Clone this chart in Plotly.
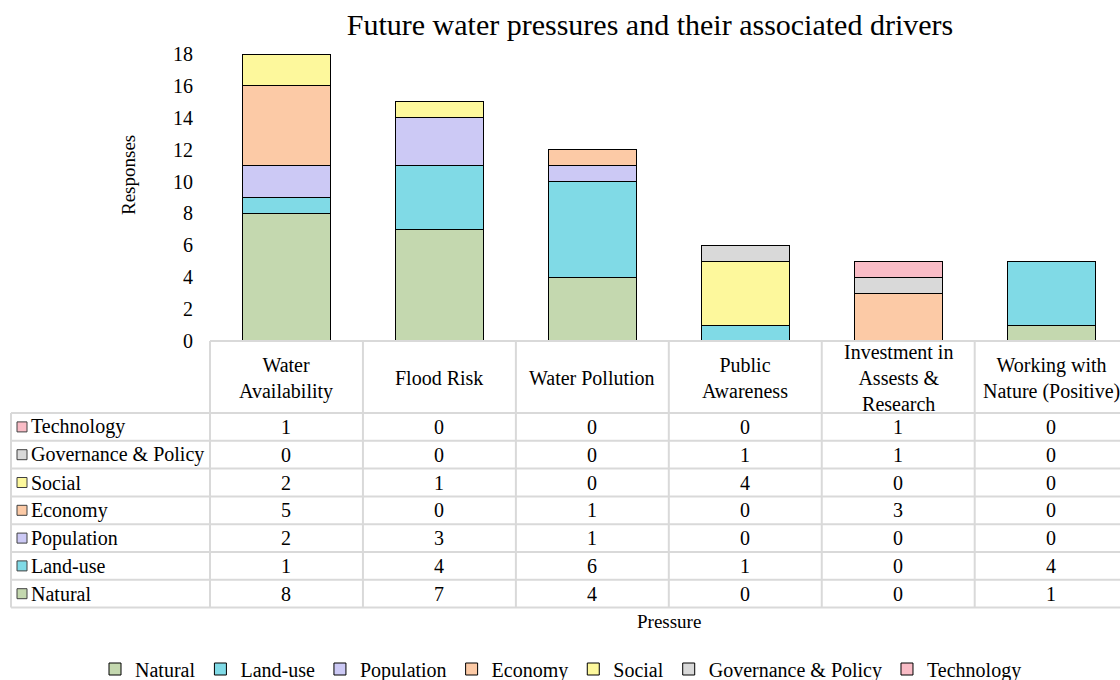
import plotly.graph_objects as go

categories = ["Water Availability", "Flood Risk", "Water Pollution", "Public Awareness",
              "Investment in Assests & Research", "Working with Nature (Positive)"]
header_labels = ["Water<br>Availability", "Flood Risk", "Water Pollution", "Public<br>Awareness",
                 "Investment in<br>Assests &<br>Research", "Working with<br>Nature (Positive)"]

series_names = ["Natural", "Land-use", "Population", "Economy", "Social", "Governance & Policy", "Technology"]
natural = [8, 7, 4, 0, 0, 1]
land_use = [1, 4, 6, 1, 0, 4]
population = [2, 3, 1, 0, 0, 0]
economy = [5, 0, 1, 0, 3, 0]
social = [2, 1, 0, 4, 0, 0]
governance = [0, 0, 0, 1, 1, 0]
technology = [1, 0, 0, 0, 1, 0]
series_values = [natural, land_use, population, economy, social, governance, technology]
colors = ["#C4D8AF", "#80DAE6", "#CCC9F5", "#FCCAA6", "#FDF89C", "#D9D9D9", "#F9BCC6"]

W, H = 1120, 680
L, T, B_PIX = 210, 54, 341          # plot area left, top, bottom (pixels)
PH = B_PIX - T
FONT = "Liberation Serif, Times New Roman, serif"
GRID = "#D9D9D9"
TXT = 20


def py(pix):
    return (B_PIX - pix) / PH


def px(pix):
    return (pix - L) / (W - L)


fig = go.Figure()
for name, vals, col in zip(series_names, series_values, colors):
    fig.add_trace(go.Bar(
        x=list(range(len(categories))), y=vals, name=name, width=0.575,
        marker=dict(color=col, line=dict(color="black", width=1)),
        hovertext=categories,
    ))

shapes = []
row_top = 413
row_h = 27.8
n_rows = len(series_names)
table_bottom = row_top + row_h * n_rows
# header top line
shapes.append(dict(type="line", xref="paper", yref="paper", x0=0, x1=1, y0=py(B_PIX), y1=py(B_PIX),
                   line=dict(color=GRID, width=2)))
# row lines
for k in range(n_rows + 1):
    yy = py(row_top + k * row_h)
    shapes.append(dict(type="line", xref="paper", yref="paper", x0=px(11), x1=1, y0=yy, y1=yy,
                       line=dict(color=GRID, width=2)))
# vertical lines
shapes.append(dict(type="line", xref="paper", yref="paper", x0=0, x1=0, y0=py(B_PIX), y1=py(table_bottom),
                   line=dict(color=GRID, width=2)))
shapes.append(dict(type="line", xref="paper", yref="paper", x0=px(11), x1=px(11), y0=py(row_top),
                   y1=py(table_bottom), line=dict(color=GRID, width=2)))
for i in range(1, len(categories)):
    shapes.append(dict(type="line", xref="x", yref="paper", x0=i - 0.5, x1=i - 0.5, y0=py(B_PIX),
                       y1=py(table_bottom), line=dict(color=GRID, width=2)))

annotations = []
# header labels
for i, lab in enumerate(header_labels):
    annotations.append(dict(xref="x", yref="paper", x=i, y=py((B_PIX + row_top) / 2 + 1), text=lab,
                            showarrow=False, xanchor="center", yanchor="middle",
                            font=dict(family=FONT, size=TXT, color="black")))
# rows: Technology at top, Natural at bottom
for r, idx in enumerate(reversed(range(n_rows))):
    cy = row_top + row_h * (r + 0.5)
    shapes.append(dict(type="rect", xref="paper", yref="paper", x0=px(17), x1=px(27),
                       y0=py(cy - 5), y1=py(cy + 5), fillcolor=colors[idx],
                       line=dict(color="#404040", width=1)))
    annotations.append(dict(xref="paper", yref="paper", x=px(29), y=py(cy), text=series_names[idx],
                            showarrow=False, xanchor="left", yanchor="middle",
                            font=dict(family=FONT, size=TXT, color="black")))
    for i, v in enumerate(series_values[idx]):
        annotations.append(dict(xref="x", yref="paper", x=i, y=py(cy), text=str(v),
                                showarrow=False, xanchor="center", yanchor="middle",
                                font=dict(family=FONT, size=TXT, color="black")))

annotations.append(dict(xref="paper", yref="paper", x=px(128), y=py(175), text="Responses", textangle=-90,
                        showarrow=False, xanchor="center", yanchor="middle",
                        font=dict(family=FONT, size=19, color="black")))
annotations.append(dict(xref="paper", yref="paper", x=px(669), y=py(621), text="Pressure",
                        showarrow=False, xanchor="center", yanchor="middle",
                        font=dict(family=FONT, size=19, color="black")))

fig.update_layout(
    width=W, height=H,
    margin=dict(l=L, r=0, t=T, b=H - B_PIX, pad=0, autoexpand=False),
    paper_bgcolor="white", plot_bgcolor="white",
    barmode="stack",
    title=dict(text="Future water pressures and their associated drivers", x=650 / W, xanchor="center",
               y=1 - 24 / H, yanchor="middle", font=dict(family=FONT, size=30, color="black")),
    xaxis=dict(range=[-0.5, 5.45], showticklabels=False, showgrid=False, zeroline=False, showline=False,
               ticks=""),
    yaxis=dict(range=[0, 18], dtick=2, showgrid=False, zeroline=False, showline=False, ticks="",
               tickfont=dict(family=FONT, size=TXT, color="black"), ticklabelstandoff=16),
    showlegend=True,
    legend=dict(orientation="h", x=px(95), xanchor="left", y=py(669), yanchor="middle",
                font=dict(family=FONT, size=TXT, color="black"), traceorder="normal",
                bgcolor="rgba(0,0,0,0)", itemwidth=30),
    shapes=shapes,
    annotations=annotations,
    bargap=0.425,
)

fig.write_html("out.html")
